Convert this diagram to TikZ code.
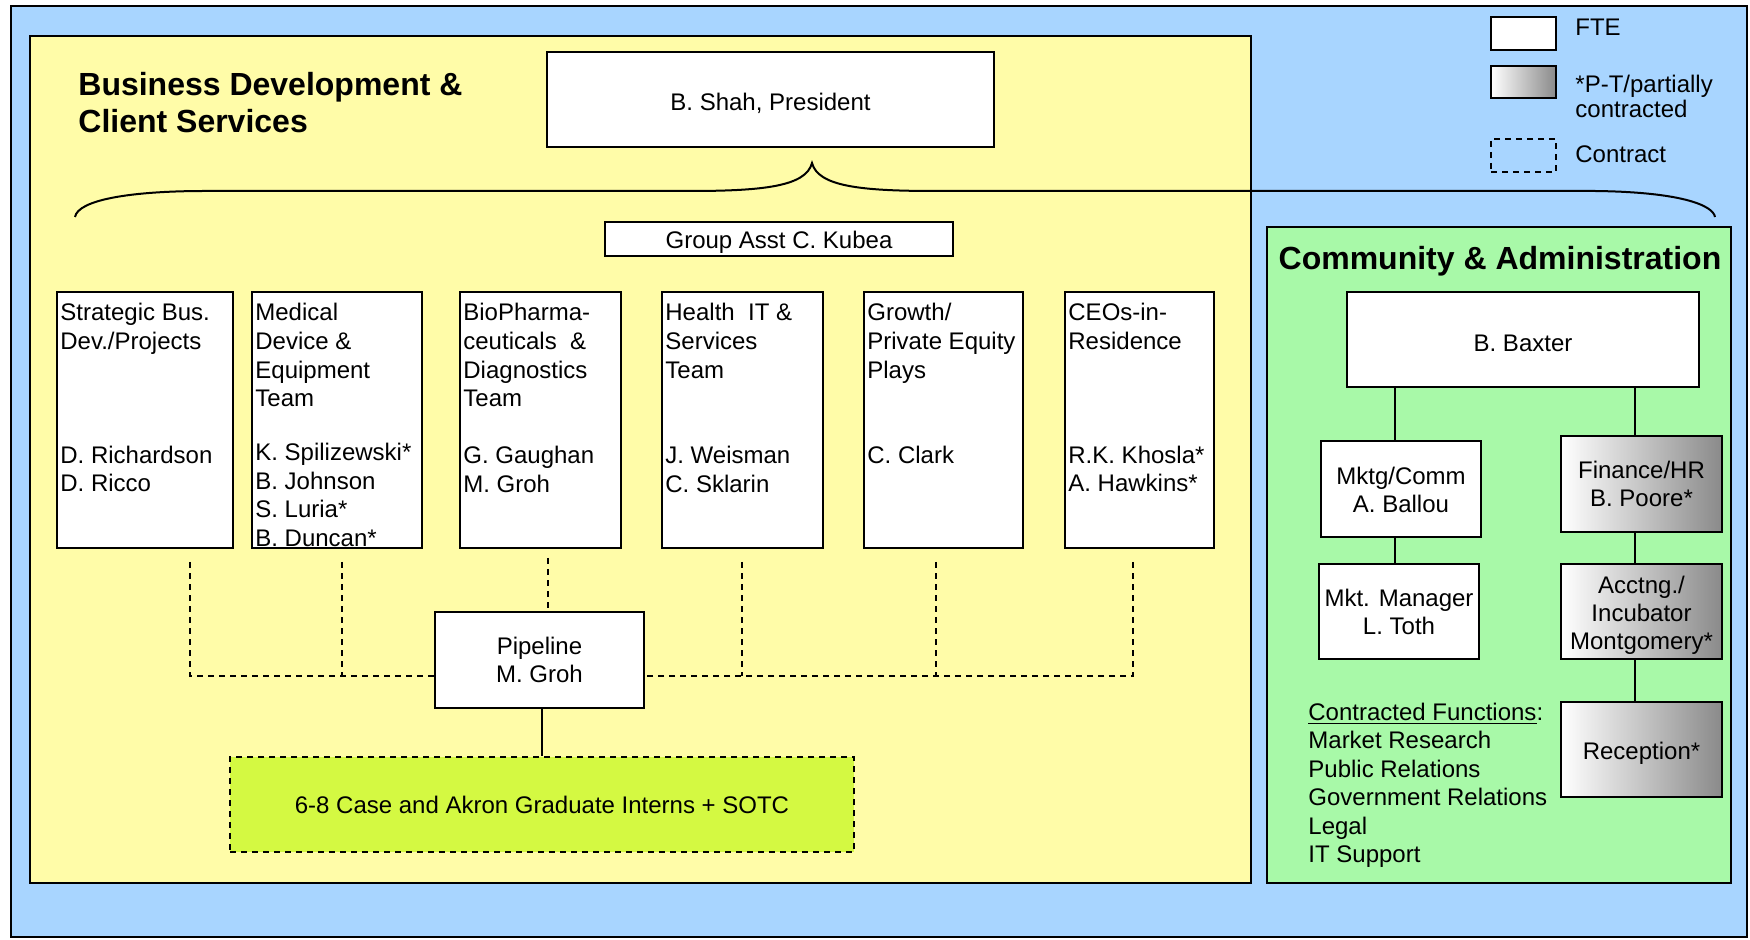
\documentclass[tikz,border=0pt]{standalone}
\usepackage{fontspec}
\setmainfont{Liberation Sans}
\usetikzlibrary{calc}

\definecolor{skyback}{RGB}{168,213,255}
\definecolor{bizyellow}{RGB}{255,252,168}
\definecolor{admingreen}{RGB}{168,249,168}
\definecolor{internlime}{RGB}{212,249,66}
\definecolor{ptgray}{RGB}{138,138,138}

\begin{document}
\begin{tikzpicture}[x=0.5pt,y=-0.5pt,
  every node/.style={font=\fontsize{12}{14}\selectfont, inner sep=0pt},
  panel/.style={draw=black, line width=1pt},
  fte/.style={draw=black, line width=1pt, fill=white, rectangle, align=center},
  parttime/.style={fte, left color=white, right color=ptgray},
  contract/.style={draw=black, line width=0.9pt, dash pattern=on 3pt off 2.5pt, rectangle, align=center},
  boxtext/.style={label={[align=center, yshift=-1.8pt]center:#1}},
  link/.style={draw=black, line width=0.9pt},
  dashlink/.style={link, dash pattern=on 3pt off 2.5pt},
  teamtext/.style={anchor=north west, align=left, font=\fontsize{12}{14.3}\selectfont},
  title/.style={font=\fontsize{16}{18.5}\selectfont\bfseries},
]
\useasboundingbox (0,0) rectangle (1750,940);

% background panels
\draw[panel, fill=skyback] (11,6) rectangle (1747,937);
\draw[panel, fill=bizyellow] (30,36) rectangle (1251,883);
\draw[panel, fill=admingreen] (1267,227) rectangle (1731,883);

% legend
\node[fte, minimum width=32.5pt, minimum height=16.5pt] (lfte) at (1523.5,33.5) {};
\node[parttime, minimum width=32.5pt, minimum height=16pt] (lpt) at (1523.5,82) {};
\node[contract, minimum width=32.5pt, minimum height=16.5pt] (lctr) at (1523.5,155.5) {};
\node[anchor=base west] (lftetxt) at (1575,36) {FTE};
\node[anchor=north west, align=left, font=\fontsize{12}{12.5}\selectfont] (lpttxt) at (1575,74.5) {\strut*P-T/partially\\contracted};
\node[anchor=base west] (lctrtxt) at (1575,163) {Contract};

% section titles
\node[title, anchor=north west, align=left] (biztitle) at (78,69) {\strut Business Development \&\\Client Services};
\node[title, anchor=base] (admtitle) at (1500,270) {Community \& Administration};

% business development side
\node[fte, minimum width=223.5pt, minimum height=47.5pt, boxtext={B. Shah, President}] (pres) at (770.5,99.5) {};

\draw[line width=1pt] (75,217) .. controls (78,200) and (130,191) .. (205,191)
  -- (690,191) .. controls (765,191) and (806,186) .. (812,163)
  .. controls (818,186) and (859,191) .. (935,191)
  -- (1595,191) .. controls (1680,192) and (1713,205) .. (1715,217);

\node[fte, minimum width=174pt, minimum height=17pt, boxtext={Group Asst C. Kubea}] (asst) at (779,239) {};

\node[fte, minimum width=88pt, minimum height=128pt] (t1) at (145,420) {};
\node[fte, minimum width=85pt, minimum height=128pt] (t2) at (337,420) {};
\node[fte, minimum width=80.5pt, minimum height=128pt] (t3) at (540.5,420) {};
\node[fte, minimum width=80.5pt, minimum height=128pt] (t4) at (742.5,420) {};
\node[fte, minimum width=79.5pt, minimum height=128pt] (t5) at (943.5,420) {};
\node[fte, minimum width=74.5pt, minimum height=128pt] (t6) at (1139.5,420) {};

\node[teamtext] (t1txt) at ($(t1.north west)+(4,9.5)$) {\strut Strategic Bus.\\Dev./Projects\\[42.6pt]D. Richardson\\D. Ricco};
\node[teamtext] (t2txt) at ($(t2.north west)+(4,9.5)$) {\strut Medical\\Device \&\\Equipment\\Team\\[12.6pt]K. Spilizewski*\\B. Johnson\\S. Luria*\\B. Duncan*};
\node[teamtext] (t3txt) at ($(t3.north west)+(4,9.5)$) {\strut BioPharma-\\ceuticals\ \ \&\\Diagnostics\\Team\\[14.3pt]G. Gaughan\\M. Groh};
\node[teamtext] (t4txt) at ($(t4.north west)+(4,9.5)$) {\strut Health\ \ IT \&\\Services\\Team\\[28.6pt]J. Weisman\\C. Sklarin};
\node[teamtext] (t5txt) at ($(t5.north west)+(4,9.5)$) {\strut Growth/\\Private Equity\\Plays\\[28.3pt]C. Clark};
\node[teamtext] (t6txt) at ($(t6.north west)+(4,9.5)$) {\strut CEOs-in-\\Residence\\[42.6pt]R.K. Khosla*\\A. Hawkins*};

\node[fte, minimum width=104.5pt, minimum height=48pt] (pipe) at (539.5,660) {Pipeline\\M. Groh};
\node[contract, fill=internlime, minimum width=312pt, minimum height=47.5pt] (interns) at (542,804.5) {6-8 Case and Akron Graduate Interns + SOTC};

% dashed reporting lines into the pipeline
\coordinate (d1) at (190,562);  \coordinate (h1) at (190,676);
\coordinate (d2) at (342,562);
\coordinate (d3) at (548,558);
\coordinate (d4) at (742,562);
\coordinate (d5) at (936,562);
\coordinate (d6) at (1133,562); \coordinate (h6) at (1133,676);
\draw[dashlink] (d1) -- (h1) -- (h1 -| pipe.west);
\draw[dashlink] (d2) -- (d2 |- h1);
\draw[dashlink] (d3) -- (d3 |- pipe.north);
\draw[dashlink] (d4) -- (d4 |- h6);
\draw[dashlink] (d5) -- (d5 |- h6);
\draw[dashlink] (d6) -- (h6) -- (h6 -| pipe.east);
\draw[link] (interns.north |- pipe.south) -- (interns.north);

% community & administration side
\node[fte, minimum width=176pt, minimum height=47.5pt, boxtext={B. Baxter}] (baxter) at (1523,339.5) {};
\node[fte, minimum width=80pt, minimum height=48pt] (mktg) at (1401,489.5) {Mktg/Comm\\A. Ballou};
\node[fte, minimum width=80pt, minimum height=47.5pt] (mktmgr) at (1399,611.5) {Mkt. Manager\\L. Toth};
\node[parttime, minimum width=80.5pt, minimum height=48pt] (fin) at (1641.5,484) {Finance/HR\\B. Poore*};
\node[parttime, minimum width=80.5pt, minimum height=47.5pt, boxtext={Acctng./\\Incubator\\Montgomery*}] (acct) at (1641.5,611.5) {};
\node[parttime, minimum width=80.5pt, minimum height=47.5pt, boxtext={Reception*}] (recep) at (1641.5,749.5) {};

\coordinate (lx) at (1395,0);
\coordinate (rx) at (1635,0);
\draw[link] (baxter.south -| lx) -- (mktg.north -| lx);
\draw[link] (mktg.south -| lx) -- (mktmgr.north -| lx);
\draw[link] (baxter.south -| rx) -- (fin.north -| rx);
\draw[link] (fin.south -| rx) -- (acct.north -| rx);
\draw[link] (acct.south -| rx) -- (recep.north -| rx);

\node[anchor=north west, align=left, font=\fontsize{12}{14.25}\selectfont] (contracted) at (1308,700)
  {\strut\underline{Contracted Functions}:\\Market Research\\Public Relations\\Government Relations\\Legal\\IT Support};
\end{tikzpicture}
\end{document}
